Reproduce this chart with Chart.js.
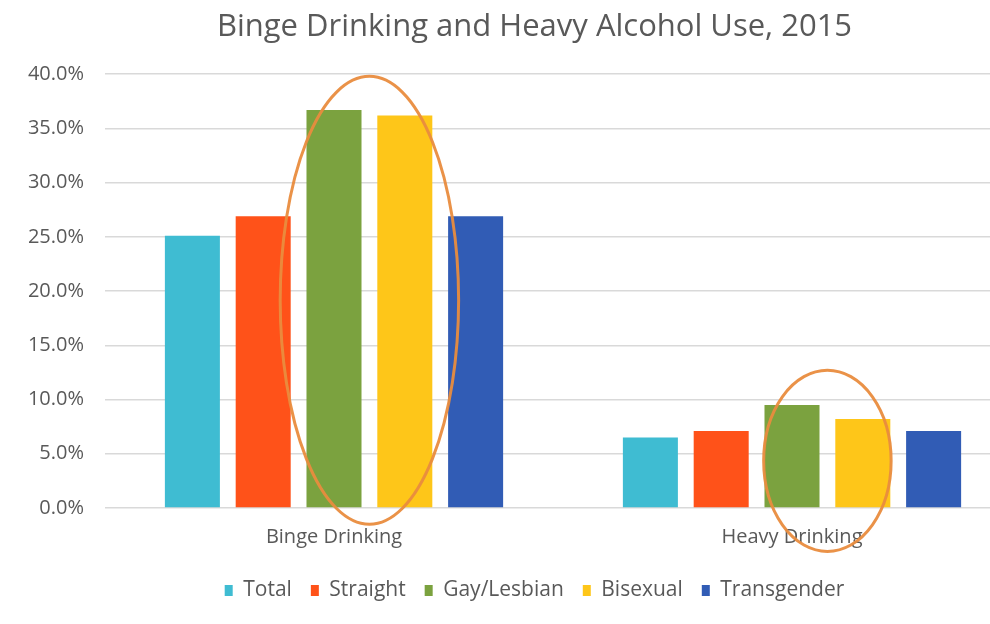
<!DOCTYPE html>
<html>
<head>
<meta charset="utf-8">
<title>Binge Drinking and Heavy Alcohol Use, 2015</title>
<script src="https://cdn.jsdelivr.net/npm/chart.js@4/dist/chart.umd.min.js"></script>
<style>
  html, body { margin: 0; padding: 0; background: #fff; overflow: hidden; }
  #wrap { width: 990px; height: 624px; overflow: hidden; }
</style>
</head>
<body>
<div id="wrap"><canvas id="alcohol-chart" width="1040" height="624"></canvas></div>
<script>
const categories = ["Binge Drinking", "Heavy Drinking"];
const groups = ["Total", "Straight", "Gay/Lesbian", "Bisexual", "Transgender"];

// percent of respondents
const totalValues = [25.1, 6.5];
const straightValues = [26.9, 7.1];
const gayLesbianValues = [36.7, 9.5];
const bisexualValues = [36.2, 8.2];
const transgenderValues = [26.9, 7.1];

const yTicks = [0, 5, 10, 15, 20, 25, 30, 35, 40];

const seriesValues = [totalValues, straightValues, gayLesbianValues, bisexualValues, transgenderValues];
const seriesColors = ["#3FBCD2", "#FF5219", "#7BA23F", "#FEC619", "#315CB5"];

const textGray = "#595959";
const fontFamily = "'Open Sans', Lato, sans-serif";

// orange ellipses drawn round the Gay/Lesbian + Bisexual bars of each group
const highlightPlugin = {
  id: "highlight",
  beforeDraw(chart) {
    // let the y tick labels run into the left padding instead of being clipped
    chart.scales.y.left = 0;
  },
  afterDatasetsDraw(chart) {
    const ctx = chart.ctx;
    const y = chart.scales.y;
    const rings = [
      { index: 0, top: 39.8, bottom: -1.5, widen: 1.26 },
      { index: 1, top: 12.7, bottom: -4.0, widen: 0.90 }
    ];
    rings.forEach((r) => {
      const a = chart.getDatasetMeta(2).data[r.index];
      const b = chart.getDatasetMeta(3).data[r.index];
      const cx = (a.x + b.x) / 2;
      const pitch = b.x - a.x;
      const yTop = y.getPixelForValue(r.top);
      const yBot = y.getPixelForValue(r.bottom);
      ctx.save();
      ctx.beginPath();
      ctx.ellipse(cx, (yTop + yBot) / 2, pitch * r.widen, (yBot - yTop) / 2, 0, 0, Math.PI * 2);
      ctx.strokeStyle = "rgba(233, 140, 62, 0.95)";
      ctx.lineWidth = 3;
      ctx.stroke();
      ctx.restore();
    });
  }
};

const ctx = document.getElementById("alcohol-chart").getContext("2d");

new Chart(ctx, {
  type: "bar",
  data: {
    labels: categories,
    datasets: groups.map((name, i) => ({
      label: name,
      data: seriesValues[i],
      backgroundColor: seriesColors[i],
      borderWidth: 0,
      categoryPercentage: 0.773,
      barPercentage: 0.777
    }))
  },
  options: {
    responsive: false,
    animation: false,
    layout: { padding: { left: 48, right: 19, top: 0, bottom: 13 } },
    plugins: {
      title: {
        display: true,
        text: "Binge Drinking and Heavy Alcohol Use, 2015",
        color: textGray,
        font: { family: fontFamily, size: 31, weight: "normal" },
        padding: { top: 9, bottom: 28 }
      },
      legend: {
        position: "bottom",
        labels: {
          color: textGray,
          font: { family: fontFamily, size: 21 },
          boxWidth: 8,
          boxHeight: 11,
          padding: 19
        }
      },
      tooltip: { enabled: false }
    },
    scales: {
      x: {
        grid: { display: false, drawTicks: false },
        border: { display: false },
        afterFit(scale) { scale.height -= 5; },
        ticks: { color: textGray, font: { family: fontFamily, size: 20 }, padding: 17 }
      },
      y: {
        min: 0,
        max: 40,
        afterFit(scale) { scale.width = 57; },
        afterBuildTicks(scale) { scale.ticks = yTicks.map((v) => ({ value: v })); },
        grid: { color: "#D9D9D9", lineWidth: 1.5, drawTicks: false },
        border: { display: false },
        ticks: {
          color: textGray,
          font: { family: fontFamily, size: 20 },
          padding: 21,
          callback: (v) => v.toFixed(1) + "%"
        }
      }
    }
  },
  plugins: [highlightPlugin]
});
</script>
</body>
</html>
